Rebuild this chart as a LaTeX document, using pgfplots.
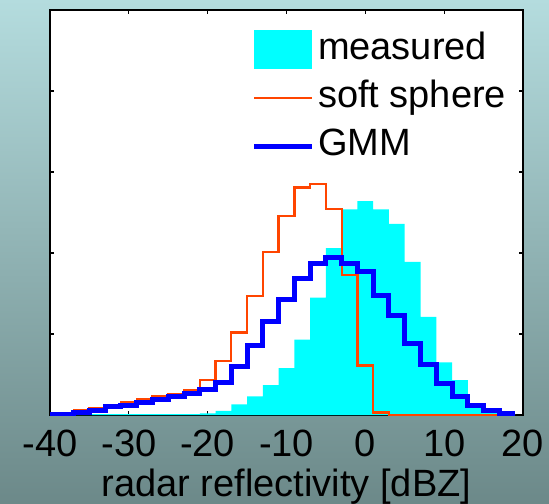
\documentclass[border=0pt]{standalone}
\usepackage{fontspec}
\setmainfont{Liberation Sans}
\usepackage{pgfplots}
\pgfplotsset{compat=1.18}

\definecolor{bgtop}{RGB}{180,220,222}
\definecolor{bgbot}{RGB}{108,137,137}
\definecolor{softred}{RGB}{255,69,0}
\definecolor{gmmblue}{RGB}{0,0,255}
\definecolor{meascyan}{RGB}{0,255,255}

\newcommand{\bigfont}{\fontsize{15.2}{18}\selectfont}

\begin{document}
\begin{tikzpicture}
% backdrop, also fixes the page size (1px = 0.4pt)
\shade[top color=bgtop, bottom color=bgbot, use as bounding box]
  (-20pt,-35.2pt) rectangle (199.6pt,166pt);
\begin{axis}[
  scale only axis, width=189.2pt, height=162pt,
  xmin=-40, xmax=20, ymin=0, ymax=5,
  axis background/.style={fill=white},
  xtick={-40,-30,...,20},
  xticklabels={-40,-30,-20,-10,0,10,20},
  ytick={0,1,2,3,4,5}, yticklabels={},
  tick align=inside, major tick length=1.6pt,
  tick style={black, line width=0.5pt},
  axis line style={black, line width=0.6pt},
  every tick label/.append style={font=\bigfont},
  xticklabel style={yshift=-2.6pt},
  xlabel={radar reflectivity [dBZ]},
  xlabel style={font=\bigfont, yshift=2.2pt},
  legend style={at={(rel axis cs:0.425,0.956)}, anchor=north west,
    draw=none, fill=none, inner sep=0pt, font=\bigfont,
    nodes={inner sep=1.4pt, text depth=3.5pt, text height=11pt},
    row sep=2pt},
  legend cell align=left,
]
\addplot[fill=meascyan, draw=none, const plot mark left,
  legend image code/.code={\fill[meascyan] (0pt,-7.8pt) rectangle (23.2pt,7.8pt);}]
  coordinates {
  (-41,0.01) (-37,0.01) (-35,0.01) (-33,0.01) (-31,0.01) (-29,0.01)
  (-27,0.01) (-25,0.01) (-23,0.01) (-21,0.02) (-19,0.05) (-17,0.13)
  (-15,0.23) (-13,0.37) (-11,0.58) (-9,0.93) (-7,1.45) (-5,2.06)
  (-3,2.54) (-1,2.64) (1,2.54) (3,2.36) (5,1.89) (7,1.21)
  (9,0.65) (11,0.43) (13,0.09) (15,0.04) (17,0.01) (19,0.01)
  } \closedcycle;
\addlegendentry{measured}
\addplot[softred, line width=0.9pt, const plot mark left,
  legend image code/.code={\draw[softred, line width=0.9pt] (0pt,0pt) -- (23.2pt,0pt);}]
  coordinates {
  (-41,0.02) (-37,0.06) (-35,0.09) (-33,0.12) (-31,0.16) (-29,0.19)
  (-27,0.23) (-25,0.26) (-23,0.31) (-21,0.43) (-19,0.67) (-17,1.02)
  (-15,1.47) (-13,2.01) (-11,2.46) (-9,2.81) (-7,2.85) (-5,2.54)
  (-3,1.73) (-1,0.61) (1,0.03) (3,0.0) (5,0.0) (7,0.0)
  (9,0.0) (11,0.0) (13,0.0) (15,0.0) (17,0.0) (19,0.0)
  };
\addlegendentry{soft sphere}
\addplot[gmmblue, line width=2pt, const plot mark left,
  legend image code/.code={\draw[gmmblue, line width=2pt] (0pt,0pt) -- (23.2pt,0pt);}]
  coordinates {
  (-41,0.01) (-37,0.03) (-35,0.06) (-33,0.10) (-31,0.12) (-29,0.15)
  (-27,0.19) (-25,0.23) (-23,0.27) (-21,0.31) (-19,0.40) (-17,0.60)
  (-15,0.86) (-13,1.15) (-11,1.43) (-9,1.68) (-7,1.87) (-5,1.95)
  (-3,1.87) (-1,1.77) (1,1.48) (3,1.23) (5,0.88) (7,0.62)
  (9,0.39) (11,0.23) (13,0.12) (15,0.05) (17,0.02) (19,0.02)
  };
\addlegendentry{GMM}
\end{axis}
\end{tikzpicture}
\end{document}
